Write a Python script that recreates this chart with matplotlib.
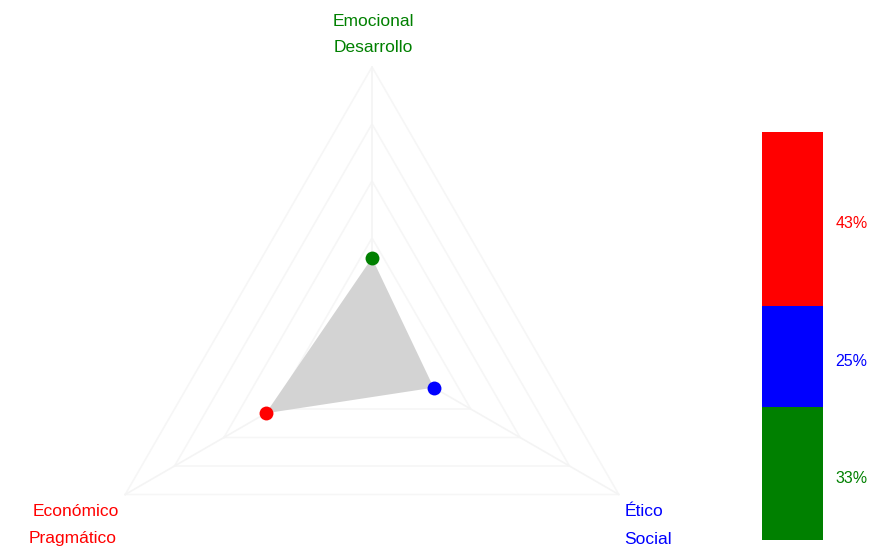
import numpy as np
import matplotlib
matplotlib.use("Agg")
import matplotlib.pyplot as plt
from matplotlib.transforms import offset_copy

plt.rcParams['font.family'] = ['Liberation Sans', 'DejaVu Sans']

# ---- data ----
dimensions = ["Económico\nPragmático", "Ético\nSocial", "Emocional\nDesarrollo"]
values = [43, 25, 33]          # percentages per dimension
colors = ["#ff0000", "#0000ff", "#008000"]
grid_levels = [20, 40, 60, 80, 100]
max_value = 100
bar_order = [2, 1, 0]          # stacked bottom -> top: green, blue, red
bar_labels = ["33%", "25%", "43%"]

W, H, DPI = 893, 558, 100
fig = plt.figure(figsize=(W / DPI, H / DPI), dpi=DPI)
fig.patch.set_facecolor("white")

# radar axes: whole figure, 1 data unit = 2.85 px, centre at pixel (372, 352 from top)
cx, cy, scale = 372, 352, 2.85
ax = fig.add_axes([0, 0, 1, 1])
ax.set_xlim(-cx / scale, (W - cx) / scale)
ax.set_ylim(-(H - cy) / scale, cy / scale)
ax.axis("off")

angles = np.deg2rad([210, 330, 90])   # Económico lower-left, Ético lower-right, Emocional top

def xy(r, a):
    return r * np.cos(a), r * np.sin(a)

# grid triangles
for lv in grid_levels:
    px = [xy(lv, a)[0] for a in angles] + [xy(lv, angles[0])[0]]
    py = [xy(lv, a)[1] for a in angles] + [xy(lv, angles[0])[1]]
    ax.plot(px, py, color="#f6f6f6", lw=1.2, zorder=1)
# spokes
for a in angles:
    ex, ey = xy(max_value, a)
    ax.plot([0, ex], [0, ey], color="#f4f4f4", lw=1.2, zorder=1)

# data polygon
pts = [xy(v, a) for v, a in zip(values, angles)]
ax.fill([p[0] for p in pts], [p[1] for p in pts], color="#d3d3d3", zorder=2, lw=0)
for (x, y), c in zip(pts, colors):
    ax.plot(x, y, "o", color=c, markersize=10, markeredgewidth=0, zorder=3)

# labels
fs = 12.5
fig.text(373 / W, 1 - 21 / H, dimensions[2].split("\n")[0], color=colors[2], fontsize=fs, ha="center", va="center")
fig.text(373 / W, 1 - 48 / H, dimensions[2].split("\n")[1], color=colors[2], fontsize=fs, ha="center", va="center")
fig.text(76 / W, 1 - 512 / H, dimensions[0].split("\n")[0], color=colors[0], fontsize=fs, ha="center", va="center")
fig.text(73 / W, 1 - 539 / H, dimensions[0].split("\n")[1], color=colors[0], fontsize=fs, ha="center", va="center")
fig.text(625 / W, 1 - 511 / H, dimensions[1].split("\n")[0], color=colors[1], fontsize=fs, ha="left", va="center")
fig.text(624 / W, 1 - 539 / H, dimensions[1].split("\n")[1], color=colors[1], fontsize=fs, ha="left", va="center")

# stacked bar
bx = fig.add_axes([762 / W, 18 / H, 61 / W, 408 / H])
bottom = 0
total = sum(values)
lab_tr = offset_copy(bx.get_yaxis_transform(), fig=fig, x=0, y=-5, units="dots")
for idx, lab in zip(bar_order, bar_labels):
    bx.bar(0, values[idx], bottom=bottom, width=1.0, color=colors[idx], lw=0)
    bx.text(1.2, bottom + values[idx] / 2, lab, color=colors[idx], fontsize=11.5,
            ha="left", va="center", transform=lab_tr)
    bottom += values[idx]
bx.set_xlim(-0.5, 0.5)
bx.set_ylim(0, total)
bx.axis("off")

fig.savefig("out.png", dpi=DPI, facecolor="white")
